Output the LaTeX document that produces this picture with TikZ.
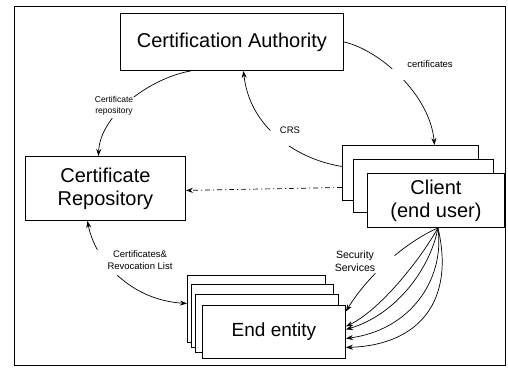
\documentclass[tikz,border=0pt]{standalone}
\usepackage{fontspec}
\setmainfont{Liberation Sans}
\usetikzlibrary{arrows.meta}
\tikzset{
  box/.style={draw, line width=0.9pt, fill=white, inner sep=0pt, align=center, anchor=north west, font=\fontsize{20}{23}\selectfont},
  conn/.style={line width=0.7pt, -{Stealth[length=7pt,width=5pt]}},
  dconn/.style={line width=0.7pt, {Stealth[length=7pt,width=5pt]}-{Stealth[length=7pt,width=5pt]}},
  dashdotline/.style={dash pattern=on 5pt off 3pt on 1pt off 3pt},
  cutgap/.style={circle, fill=white, inner sep=0pt, minimum size=#1},
  lbl/.style={align=center, inner sep=1pt, font=\fontsize{9.5}{12}\selectfont}
}
\begin{document}
\begin{tikzpicture}[x=1pt, y=-1pt]
\useasboundingbox (0,0) rectangle (508,369);
\draw[line width=0.9pt] (14,6) rectangle (505,365);

% boxes
\node[box, minimum width=223pt, minimum height=57pt] (ca) at (120,13) {Certification Authority};
\node[box, minimum width=160pt, minimum height=64pt] (repo) at (25,156) {Certificate\\Repository};

\node[box, minimum width=136pt, minimum height=55pt] (cb) at (342,145) {};
\node[box, minimum width=140pt, minimum height=53pt] (cm) at (353,159) {};
\node[box, minimum width=137pt, minimum height=54pt] (cf) at (367,173) {Client\\(end user)};

\node[box, minimum width=138pt, minimum height=67pt] (ee1) at (187,275) {};
\node[box, minimum width=142pt, minimum height=63pt] (ee2) at (191,284) {};
\node[box, minimum width=143pt, minimum height=58pt] (ee3) at (195,294) {};
\node[box, minimum width=143pt, minimum height=53pt, font=\fontsize{19}{22}\selectfont] (ef) at (202,305) {End entity};

% connectors with gaps
\draw[conn] ([xshift=-41pt]ca.south) .. controls (150,78) and (100,115) .. ([xshift=-7pt]repo.north)
  node[cutgap=30pt, pos=0.57] {};
\draw[conn] (ca.east) .. controls (380,50) and (430,95) .. ([xshift=24pt]cb.north)
  node[cutgap=16pt, pos=0.47] {};
\draw[conn] ([yshift=6.5pt]cb.west) .. controls (300,160) and (250,130) .. ([xshift=11.5pt]ca.south)
  node[cutgap=24pt, pos=0.5] {};
\draw[dconn] ([xshift=-18pt]repo.south) .. controls (95,260) and (130,300) .. ([yshift=5.5pt]ee1.west)
  node[cutgap=32pt, pos=0.37] {};
\draw[conn] ([xshift=2pt]cf.south) .. controls (400,245) and (365,280) .. ([yshift=20.5pt]ef.east)
  node[cutgap=26pt, pos=0.5] {};

% plain connectors
\draw[conn, dashdotline] ([yshift=-14.5pt]cb.west) -- ([yshift=-2pt]repo.east);
\draw[conn] ([xshift=2pt]cf.south) .. controls (420,260) and (380,310) .. ([yshift=5.5pt]ef.east);
\draw[conn] ([xshift=2pt]cf.south) .. controls (430,270) and (395,315) .. ([yshift=2.5pt]ef.east);
\draw[conn] ([xshift=2pt]cf.south) .. controls (445,280) and (410,330) .. ([yshift=-6.5pt]ef.east);
\draw[conn] ([xshift=2pt]cf.south) .. controls (455,300) and (420,345) .. ([yshift=-15.5pt]ef.east);

% labels
\node[lbl, font=\fontsize{8.5}{11}\selectfont] (lrep) at (114,106) {Certificate\\repository};
\node[lbl] (lcert) at (430,64) {certificates};
\node[lbl] (lcrs) at (290,130) {CRS};
\node[lbl] (lcrl) at (140,260) {Certificates\&\\Revocation List};
\node[lbl, font=\fontsize{10.5}{13}\selectfont] (lsec) at (355,261) {Security\\Services};
\end{tikzpicture}
\end{document}
